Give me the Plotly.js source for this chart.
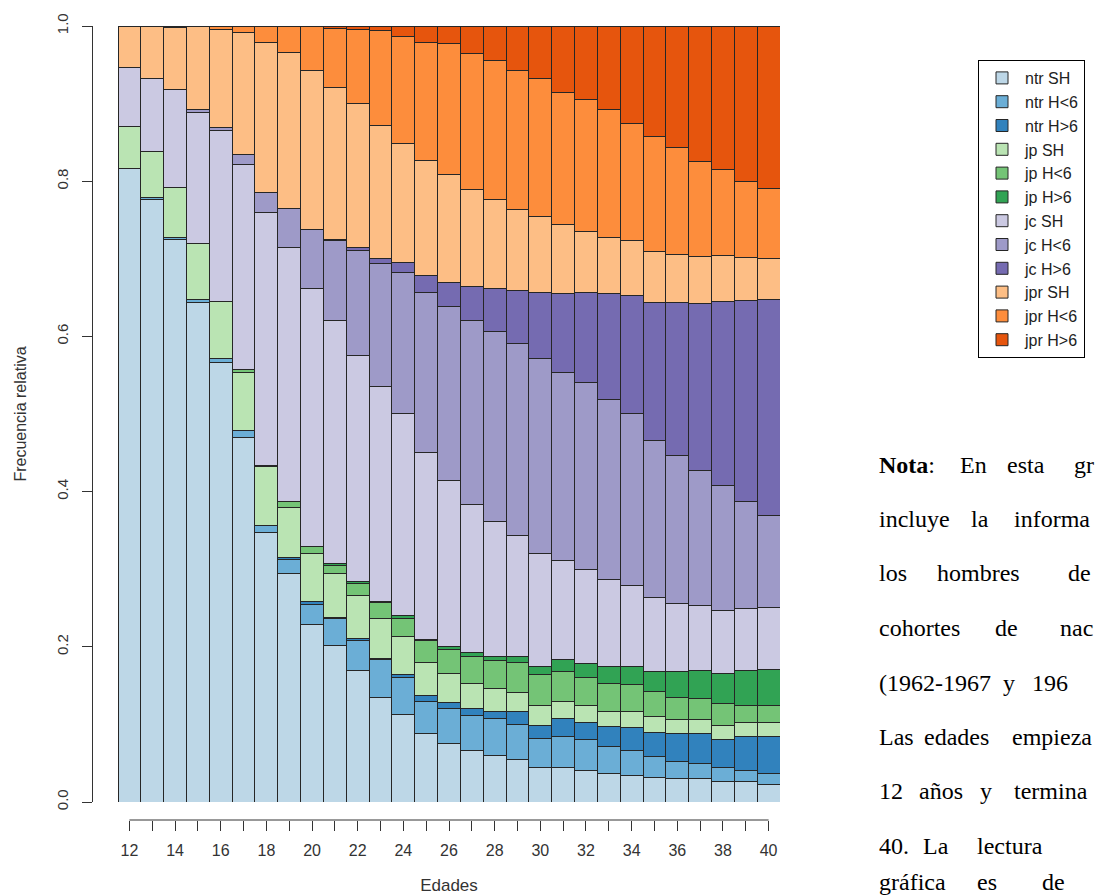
<!DOCTYPE html>
<html>
<head>
<meta charset="utf-8">
<script src="https://cdn.plot.ly/plotly-3.0.1.min.js"></script>
<style>html,body{margin:0;padding:0;background:#fff;}#chart{width:1096px;height:895px;}</style>
</head>
<body>
<div id="chart"></div>
<script>
const ages = [12,13,14,15,16,17,18,19,20,21,22,23,24,25,26,27,28,29,30,31,32,33,34,35,36,37,38,39,40];
const xTickLabels = ["12","","14","","16","","18","","20","","22","","24","","26","","28","","30","","32","","34","","36","","38","","40"];
const yTickVals = [0,0.2,0.4,0.6,0.8,1.0];
const yTickLabels = ["0.0","0.2","0.4","0.6","0.8","1.0"];

const seriesNames = ["ntr SH","ntr H<6","ntr H>6","jp SH","jp H<6","jp H>6","jc SH","jc H<6","jc H>6","jpr SH","jpr H<6","jpr H>6"];
const seriesColors = ["#BDD7E7","#6BAED6","#3182BD","#BAE4B3","#74C476","#31A354","#CBC9E2","#9E9AC8","#756BB1","#FDBE85","#FD8D3C","#E6550D"];

const ntrSH  = [.817,.776,.725,.644,.566,.470,.347,.295,.229,.202,.169,.135,.113,.088,.076,.066,.060,.055,.044,.044,.040,.037,.034,.031,.030,.030,.026,.026,.023];
const ntrHlt = [0,.003,.002,.004,.005,.009,.009,.018,.026,.034,.039,.048,.047,.042,.044,.045,.047,.045,.038,.041,.040,.035,.032,.027,.022,.020,.018,.015,.014];
const ntrHgt = [0,0,0,0,0,0,0,.002,.003,.002,.003,.002,.004,.007,.008,.010,.010,.016,.017,.023,.022,.025,.030,.031,.036,.038,.037,.043,.048];
const jpSH   = [.054,.059,.065,.072,.074,.075,.076,.064,.062,.056,.055,.051,.049,.043,.038,.032,.029,.025,.025,.022,.022,.020,.020,.021,.018,.018,.017,.018,.018];
const jpHlt  = [0,0,0,0,0,.003,.002,.008,.009,.011,.015,.021,.024,.028,.031,.034,.036,.039,.040,.038,.037,.036,.035,.032,.029,.028,.029,.023,.021];
const jpHgt  = [0,0,0,0,0,0,0,0,0,.002,.003,.002,.003,.002,.003,.006,.006,.007,.011,.016,.018,.021,.023,.026,.033,.035,.039,.045,.047];
const jcSH   = [.075,.094,.126,.169,.220,.264,.326,.327,.333,.313,.291,.277,.261,.240,.214,.190,.173,.157,.145,.127,.120,.113,.105,.095,.088,.084,.081,.080,.080];
const jcHlt  = [0,0,0,.003,.004,.013,.026,.051,.076,.103,.136,.158,.181,.206,.224,.238,.245,.247,.251,.242,.241,.232,.222,.203,.191,.174,.161,.137,.118];
const jcHgt  = [0,0,0,0,0,0,0,0,0,.002,.004,.007,.013,.022,.031,.043,.056,.068,.086,.102,.116,.136,.152,.178,.197,.216,.237,.259,.278];
const jprSH  = [.054,.068,.080,.107,.127,.157,.193,.201,.205,.196,.185,.171,.153,.149,.139,.125,.114,.105,.097,.089,.079,.072,.070,.066,.062,.060,.059,.056,.054];
const jprHlt = [0,0,.001,.001,.003,.008,.021,.033,.056,.076,.096,.122,.138,.152,.169,.175,.180,.179,.178,.170,.170,.165,.152,.148,.138,.123,.111,.097,.089];
const jprHgt = [0,0,.001,0,.001,.001,0,.001,.001,.003,.004,.006,.014,.021,.023,.036,.044,.057,.068,.086,.095,.108,.125,.142,.156,.174,.185,.201,.210];

const seriesValues = [ntrSH,ntrHlt,ntrHgt,jpSH,jpHlt,jpHgt,jcSH,jcHlt,jcHgt,jprSH,jprHlt,jprHgt];

// Note text (visible part, cropped at the right edge of the picture)
const noteLines = [
  ["<b>Nota</b>:", "En", "esta", "gr"],
  ["incluye", "la", "informa"],
  ["los", "hombres", "de"],
  ["cohortes", "de", "nac"],
  ["(1962-1967", "y", "196"],
  ["Las", "edades", "empieza"],
  ["12", "años", "y", "termina"],
  ["40.", "La", "lectura"],
  ["gráfica", "es", "de"]
];
// layout: left edge (px) of each word of the justified note
const noteWordX = [
  [877, 958, 1005, 1072],
  [877, 969, 1012],
  [877, 935, 1066],
  [877, 993, 1058],
  [877, 1001, 1030],
  [877, 922, 1010],
  [877, 917, 978, 1012],
  [877, 921, 975],
  [877, 975, 1040]
];
const noteLineY = [465, 519, 573, 628, 683, 737, 791, 846, 882];

const W = 1096, H = 895, MT = 26, MB = 75;
const PH = H - MT - MB;
const px2x = p => p / W;
const py2y = p => (H - MB - p) / PH;

const traces = seriesNames.map((n, i) => ({
  type: 'bar',
  name: n,
  x: ages,
  y: seriesValues[i],
  width: 1,
  marker: {color: seriesColors[i], line: {color: '#262626', width: 1}},
  hovertemplate: n + ' %{x}: %{y}<extra></extra>'
}));

const annotations = [];
noteLines.forEach((words, li) => {
  words.forEach((w, wi) => {
    annotations.push({
      xref: 'paper', yref: 'paper',
      x: px2x(noteWordX[li][wi]), y: py2y(noteLineY[li]),
      xanchor: 'left', yanchor: 'middle',
      text: w, showarrow: false,
      font: {family: '"Liberation Serif", "Times New Roman", serif', size: 24, color: '#000'}
    });
  });
});

const layout = {
  width: W, height: H,
  margin: {l: 0, r: 0, t: MT, b: MB},
  paper_bgcolor: '#fff', plot_bgcolor: '#fff',
  barmode: 'stack', bargap: 0,
  showlegend: true,
  font: {family: '"Liberation Sans", Arial, sans-serif', color: '#333'},
  xaxis: {
    domain: [118 / W, 780 / W],
    anchor: 'free', position: 0,
    range: [11.5, 40.5],
    tickmode: 'array', tickvals: ages, ticktext: xTickLabels,
    ticks: 'outside', ticklen: 10, tickcolor: '#333', tickwidth: 1,
    ticklabelstandoff: 6,
    showline: false, showgrid: false, zeroline: false,
    automargin: false,
    tickfont: {size: 16, color: '#333'},
    title: {text: 'Edades', font: {size: 17, color: '#333'}, standoff: 20}
  },
  yaxis: {
    domain: [18 / PH, 1],
    anchor: 'free', position: 92 / W,
    range: [0, 1],
    tickmode: 'array', tickvals: yTickVals, ticktext: yTickLabels,
    ticks: 'outside', ticklen: 10, tickcolor: '#333', tickwidth: 1,
    tickangle: -90,
    ticklabelstandoff: 8,
    showline: true, linecolor: '#333', linewidth: 1,
    showgrid: false, zeroline: false,
    automargin: false,
    tickfont: {size: 15, color: '#333'},
    title: {text: 'Frecuencia relativa', font: {size: 16, color: '#333'}, standoff: 22}
  },
  shapes: [{
    type: 'line', xref: 'x', yref: 'paper',
    x0: ages[0], x1: ages[ages.length - 1], y0: 0, y1: 0,
    line: {color: '#333', width: 1}
  }],
  legend: {
    x: px2x(978), y: py2y(60), xanchor: 'left', yanchor: 'top',
    traceorder: 'normal',
    bgcolor: '#fff', bordercolor: '#000', borderwidth: 1,
    font: {size: 16, color: '#222'},
    itemwidth: 36,
    tracegroupgap: 0
  },
  annotations: annotations
};

Plotly.newPlot('chart', traces, layout, {displayModeBar: false, staticPlot: true});
</script>
</body>
</html>
